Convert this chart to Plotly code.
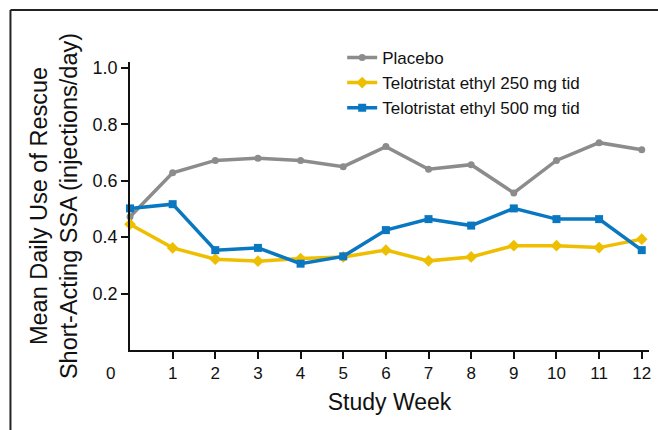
import plotly.graph_objects as go

weeks = list(range(0, 13))
placebo = [0.472, 0.628, 0.672, 0.680, 0.672, 0.650, 0.721, 0.641, 0.657, 0.557, 0.672, 0.735, 0.710]
telo_250 = [0.446, 0.362, 0.322, 0.315, 0.324, 0.330, 0.354, 0.316, 0.330, 0.370, 0.370, 0.363, 0.393]
telo_500 = [0.502, 0.517, 0.354, 0.362, 0.306, 0.332, 0.425, 0.464, 0.441, 0.502, 0.464, 0.464, 0.354]

x_tick_vals = list(range(1, 13))
x_tick_text = [str(v) for v in x_tick_vals]
y_tick_vals = [0.2, 0.4, 0.6, 0.8, 1.0]
y_tick_text = ["0.2", "0.4", "0.6", "0.8", "1.0"]

series_names = ["Placebo", "Telotristat ethyl 250 mg tid", "Telotristat ethyl 500 mg tid"]
colors = ["#8c8c8c", "#eebe00", "#0a77c1"]
symbols = ["circle", "diamond", "square"]
msizes = [7, 9, 8]

FONT = "Liberation Sans, Arial, sans-serif"

fig = go.Figure()
for name, vals, c, s, ms in zip(series_names, [placebo, telo_250, telo_500], colors, symbols, msizes):
    fig.add_trace(go.Scatter(
        x=weeks, y=vals, name=name, mode="lines+markers",
        line=dict(color=c, width=3.5),
        marker=dict(color=c, symbol=s, size=ms),
        cliponaxis=False,
    ))

W, H = 658, 430
L, R, T, B = 130, 7, 62, 80.4
pw = W - L - R
ph = H - T - B

def px_x(px):
    return (px - L) / pw

def px_y(py):
    return (H - B - py) / ph

fig.update_layout(
    width=W, height=H,
    margin=dict(l=L, r=R, t=T, b=B),
    paper_bgcolor="white", plot_bgcolor="white",
    font=dict(family=FONT, color="#111", size=16),
    showlegend=True,
    legend=dict(
        x=px_x(343), y=px_y(40), xanchor="left", yanchor="top",
        bgcolor="rgba(0,0,0,0)", font=dict(size=17, family=FONT, color="#111"),
        tracegroupgap=0, itemwidth=30,
    ),
    xaxis=dict(
        range=[0, 12.17], showgrid=False, zeroline=False,
        showline=True, linecolor="#111", linewidth=1.7,
        tickmode="array", tickvals=x_tick_vals, ticktext=x_tick_text,
        ticks="outside", ticklen=7, tickwidth=1.5, tickcolor="#111",
        tickfont=dict(size=17, family=FONT, color="#111"),
        title=dict(text="Study Week", font=dict(size=23, family=FONT, color="#111"), standoff=12),
    ),
    yaxis=dict(
        range=[0, 1.021], showgrid=False, zeroline=False,
        showline=True, linecolor="#111", linewidth=1.7,
        tickmode="array", tickvals=y_tick_vals, ticktext=y_tick_text,
        ticks="outside", ticklen=7, tickwidth=1.5, tickcolor="#111",
        tickfont=dict(size=18, family=FONT, color="#111"),
        title=dict(text="Mean Daily Use of Rescue<br>Short-Acting SSA (injections/day)",
                   font=dict(size=23.5, family=FONT, color="#111"), standoff=8),
    ),
    annotations=[dict(
        x=0, y=0, xref="x", yref="y", text="0", showarrow=False,
        xshift=-20, yshift=-23, font=dict(size=17, family=FONT, color="#111"),
    )],
    shapes=[
        dict(type="line", xref="paper", yref="paper",
             x0=px_x(10), x1=px_x(670), y0=px_y(10), y1=px_y(10),
             line=dict(color="#222", width=2)),
        dict(type="line", xref="paper", yref="paper",
             x0=px_x(10), x1=px_x(10), y0=px_y(10), y1=px_y(440),
             line=dict(color="#222", width=2)),
    ],
)

fig.write_html("out.html", config={"displayModeBar": False},
               post_script="document.body.style.margin='0px';document.body.style.overflow='hidden';")
